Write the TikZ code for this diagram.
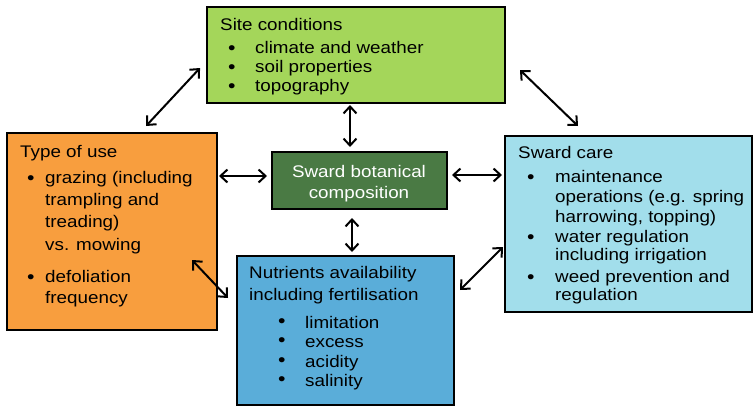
\documentclass[tikz,border=0pt]{standalone}
\usepackage{fontspec}
\setmainfont[FakeStretch=1.12]{Liberation Sans}
\usetikzlibrary{arrows.meta}
\definecolor{sitegreen}{RGB}{164,214,90}
\definecolor{useorange}{RGB}{248,158,62}
\definecolor{botgreen}{RGB}{74,122,68}
\definecolor{nutblue}{RGB}{90,173,217}
\definecolor{careblue}{RGB}{162,222,235}
\tikzset{
  box/.style={draw=black, line width=1.8pt, anchor=north west, inner sep=0pt, outer sep=0pt},
  txt/.style={anchor=base west, inner sep=0pt, font=\fontsize{16.8}{20}\selectfont},
  bul/.style={anchor=base west, inner sep=0pt, font=\fontsize{19}{20}\selectfont},
  ctxt/.style={anchor=base, inner sep=0pt, text=white, font=\fontsize{16.8}{20}\selectfont},
  arr/.style={line width=2pt, {Straight Barb[length=7pt,width=13pt]}-{Straight Barb[length=7pt,width=13pt]}}
}
\begin{document}
\begin{tikzpicture}[x=1pt,y=-1pt]
\useasboundingbox (0,0) rectangle (754,410);
% boxes
\node[box, fill=sitegreen, minimum width=298pt, minimum height=96pt] (site) at (207,7) {};
\node[box, fill=useorange, minimum width=210pt, minimum height=197pt] (use) at (7,133) {};
\node[box, fill=botgreen, minimum width=175pt, minimum height=57pt] (bot) at (272,152) {};
\node[box, fill=nutblue, minimum width=217pt, minimum height=149pt] (nut) at (237,256) {};
\node[box, fill=careblue, minimum width=247pt, minimum height=176pt] (care) at (505,136) {};
% headings and lines
\foreach \x/\y/\t [count=\i] in {
  220/30/Site conditions, 255/53/climate and weather, 255/72/soil properties, 255/91/topography,
  20/157/Type of use, {45/183/grazing (including}, 45/205/trampling and, 45/227/treading), 45/250/vs. mowing,
  45/282/defoliation, 45/303/frequency,
  249/278/Nutrients availability, 249/300/including fertilisation,
  305/328/limitation, 305/347/excess, 305/367/acidity, 305/386/salinity,
  518/158/Sward care, 555/182/maintenance, 555/202/operations (e.g. spring, {555/222/harrowing, topping)},
  555/242/water regulation, 555/260/including irrigation, 555/282/weed prevention and, 555/300/regulation}
  {\node[txt] (t\i) at (\x,\y) {\t};}
% bullets
\foreach \x/\y [count=\i] in {228/54, 228/73, 228/92, 27/184, 27/283,
  278/327, 278/346, 278/366, 278/385, 527/183, 527/243, 527/283}
  {\node[bul] (b\i) at (\x,\y) {\textbullet};}
% central text
\node[ctxt] (bt1) at (359,177) {Sward botanical};
\node[ctxt] (bt2) at (359,198) {composition};
% connector ends
\coordinate (a1) at (200,68);  \coordinate (a2) at (146,126);
\coordinate (b1) at (520,70);  \coordinate (b2) at (578,126);
\coordinate (c1) at (350,105); \coordinate (c2) at (350,147);
\coordinate (d1) at (219,176); \coordinate (d2) at (267,176);
\coordinate (e1) at (452,175); \coordinate (e2) at (502,175);
\coordinate (f1) at (352,218); \coordinate (f2) at (352,252);
\coordinate (g1) at (192,260); \coordinate (g2) at (228,298);
\coordinate (h1) at (460,290); \coordinate (h2) at (503,247);
\foreach \p in {a,b,c,d,e,f,g,h} {\draw[arr] (\p1) -- (\p2);}
\end{tikzpicture}
\end{document}
